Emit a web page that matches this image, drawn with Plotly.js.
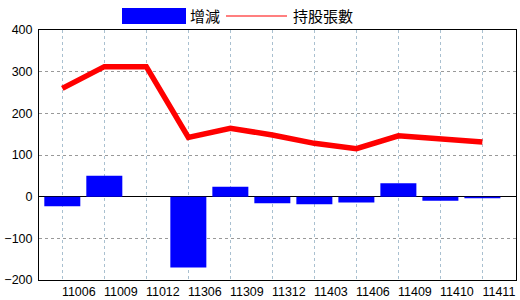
<!DOCTYPE html>
<html><head><meta charset="utf-8">
<script src="https://cdn.plot.ly/plotly-3.0.1.min.js"></script>
<style>html,body{margin:0;padding:0;background:#fff;}#c{width:520px;height:300px;}</style>
</head><body><div id="c"></div>
<script>
const categories = ['11006','11009','11012','11306','11309','11312','11403','11406','11409','11410','11411'];
const changeValues = [-23, 50, 0, -170, 24, -16, -18, -14, 32, -10, -4];
const holdingValues = [260, 312, 312, 142, 164, 148, 128, 115, 146, 138, 131];
const yTicks = [-200, -100, 0, 100, 200, 300, 400];
const seriesNames = ['增減', '持股張數'];

const L = 39, R = 4, T = 30, B = 20, W = 520, H = 300;
const pw = W - L - R, ph = H - T - B;
const px = v => (v - L) / pw;
const py = v => (H - B - v) / ph;
const xRange = [-0.555, 10.80];
const labelShift = 0.393;
const idx = categories.map((c, i) => i);

const traces = [
  {type:'bar', x:categories, y:changeValues, name:seriesNames[0], marker:{color:'#0000FF', line:{width:0}}, hoverinfo:'none'},
  {type:'scatter', mode:'lines', x:categories, y:holdingValues, name:seriesNames[1], line:{color:'#FF0000', width:5.5}, hoverinfo:'none'},
  {type:'scatter', mode:'markers', x:idx, y:holdingValues, xaxis:'x2', marker:{opacity:0, size:1}, hoverinfo:'none'}
];
const font = 'Liberation Sans Narrow, Liberation Sans, Arial, sans-serif';
const layout = {
  width:W, height:H, margin:{l:L, r:R, t:T, b:B, pad:0},
  paper_bgcolor:'#fff', plot_bgcolor:'#fff', showlegend:false, bargap:0.143,
  font:{family:font, size:12.5, color:'#000'},
  xaxis:{type:'category', range:xRange, showgrid:true, gridcolor:'#a9c0d0', griddash:'dot', gridwidth:1,
    showline:true, linecolor:'#000', linewidth:1, mirror:true, ticks:'', showticklabels:false, fixedrange:true},
  xaxis2:{type:'linear', overlaying:'x', side:'bottom', range:[xRange[0]-labelShift, xRange[1]-labelShift],
    tickvals:idx, ticktext:categories, showgrid:false, zeroline:false, showline:false, ticks:'',
    ticklabelstandoff:2, tickfont:{family:font, size:12.5}, fixedrange:true},
  yaxis:{range:[-200,400], tickvals:yTicks, showgrid:true, gridcolor:'#999', griddash:'dot', gridwidth:1,
    zeroline:true, zerolinecolor:'#000', zerolinewidth:1.6,
    showline:true, linecolor:'#000', linewidth:1, mirror:true, ticks:'', ticklabelstandoff:3,
    tickfont:{family:font, size:12.5}, fixedrange:true},
  shapes:[
    {type:'rect', xref:'paper', yref:'paper', x0:px(122), x1:px(186), y0:py(24), y1:py(8), fillcolor:'#0000FF', line:{width:0}},
    {type:'line', xref:'paper', yref:'paper', x0:px(226), x1:px(287), y0:py(16), y1:py(16), line:{color:'#FF0000', width:1.2}}
  ],
  annotations:[
    {xref:'paper', yref:'paper', x:px(188), y:py(16), xanchor:'left', yanchor:'middle', text:seriesNames[0], showarrow:false,
      font:{family:'Noto Sans CJK TC, sans-serif', size:15, color:'#000'}},
    {xref:'paper', yref:'paper', x:px(291), y:py(16), xanchor:'left', yanchor:'middle', text:seriesNames[1], showarrow:false,
      font:{family:'Noto Sans CJK TC, sans-serif', size:15, color:'#000'}}
  ]
};
Plotly.newPlot('c', traces, layout, {displayModeBar:false, staticPlot:true});
</script></body></html>
